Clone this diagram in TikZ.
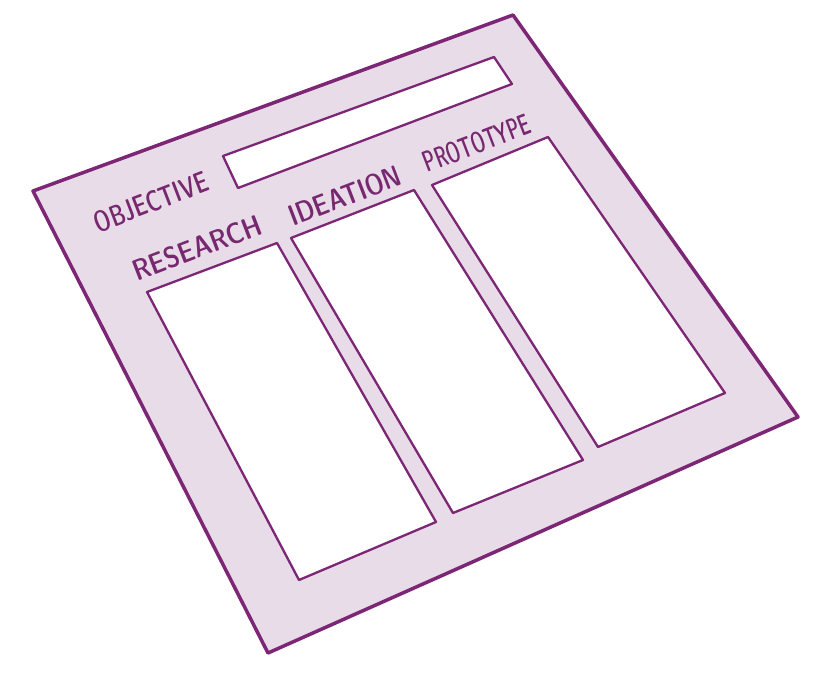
\documentclass[tikz,border=0pt]{standalone}
\usepackage{graphicx}
\usepackage{tikz}
\definecolor{sheet_fill}{RGB}{232,220,232}
\definecolor{sheet_line}{RGB}{125,38,118}
\definecolor{label_purple}{RGB}{120,40,112}
\newcommand{\cardlabel}[2]{\resizebox{#1}{21pt}{\sffamily\fontseries{sbc}\selectfont #2}}

\begin{document}
\begin{tikzpicture}[x=1pt,y=-1pt,line join=round]
    \tikzstyle{sheet}=[draw=sheet_line, fill=sheet_fill, line width=3.5pt]
    \tikzstyle{slot}=[draw=sheet_line, fill=white, line width=2.3pt]
    \tikzstyle{heading}=[text=label_purple, inner sep=0pt, rotate=21]

    \useasboundingbox (0,0) rectangle (829,685);

    % outer sheet
    \coordinate (s1) at (33,191);
    \coordinate (s2) at (513,15);
    \coordinate (s3) at (798,417);
    \coordinate (s4) at (268,653);
    \draw[sheet] (s1) -- (s2) -- (s3) -- (s4) -- cycle;

    % objective field
    \coordinate (o1) at (223,156);
    \coordinate (o2) at (494,57);
    \coordinate (o3) at (512,84);
    \coordinate (o4) at (238,188);
    \draw[slot] (o1) -- (o2) -- (o3) -- (o4) -- cycle;

    % columns
    \coordinate (r1) at (147,292);
    \coordinate (r2) at (277,243);
    \coordinate (r3) at (436,522);
    \coordinate (r4) at (299,580);
    \draw[slot] (r1) -- (r2) -- (r3) -- (r4) -- cycle;

    \coordinate (i1) at (291,238);
    \coordinate (i2) at (414,190);
    \coordinate (i3) at (583,460);
    \coordinate (i4) at (453,513);
    \draw[slot] (i1) -- (i2) -- (i3) -- (i4) -- cycle;

    \coordinate (p1) at (432,185);
    \coordinate (p2) at (548,137);
    \coordinate (p3) at (725,393);
    \coordinate (p4) at (598,447);
    \draw[slot] (p1) -- (p2) -- (p3) -- (p4) -- cycle;

    % headings
    \node[heading] (objective) at (151,202) {\cardlabel{120pt}{OBJECTIVE}};
    \node[heading] (research)  at (197,248) {\cardlabel{136pt}{RESEARCH}};
    \node[heading] (ideation)  at (345,196) {\cardlabel{118pt}{IDEATION}};
    \node[heading] (prototype) at (477,143) {\cardlabel{113pt}{PROTOTYPE}};
\end{tikzpicture}
\end{document}
